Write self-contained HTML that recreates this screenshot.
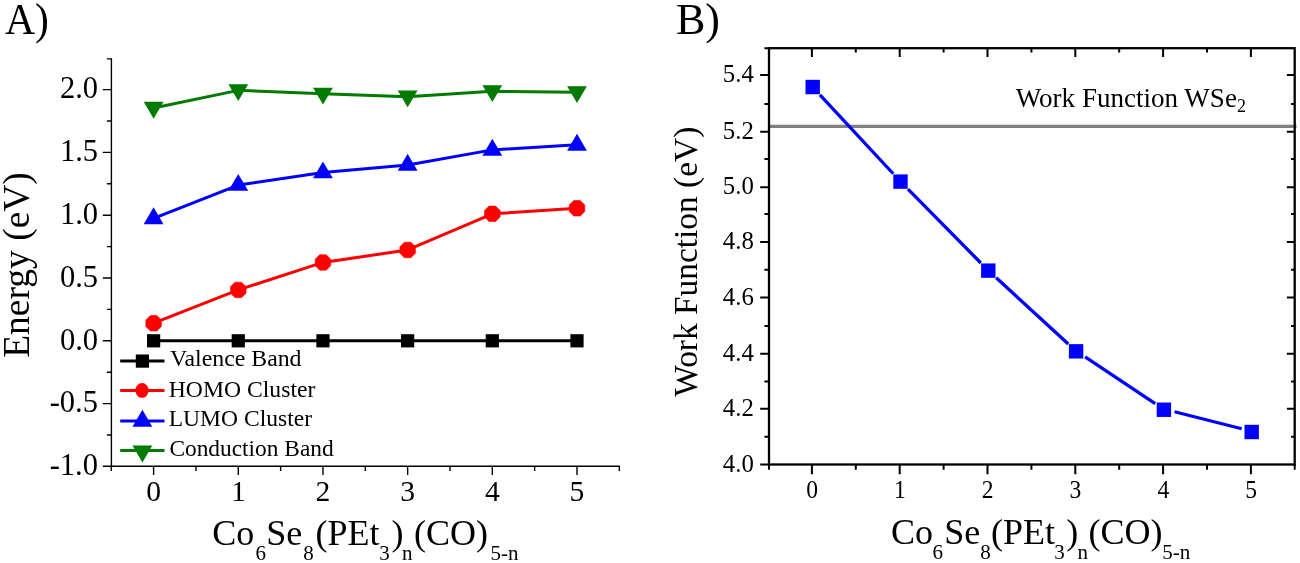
<!DOCTYPE html>
<html lang="en">
<head>
<meta charset="utf-8">
<title>Energy levels and work function of Co6Se8(PEt3)n(CO)5-n</title>
<style>
html,body{margin:0;padding:0;background:#fff;}
body{width:1300px;height:563px;overflow:hidden;font-family:"Liberation Serif",serif;}
svg{display:block;}
</style>
</head>
<body>
<svg width="1300" height="563" viewBox="0 0 1300 563">
<rect width="1300" height="563" fill="#fff"/>
<g id="panelA">
<path d="M111.4 58.20V466.3H620.10" fill="none" stroke="#000" stroke-width="1.4"/>
<path d="M111.4 466.30h-8.6M111.4 435.00h-4.5M111.4 403.60h-8.6M111.4 372.20h-4.5M111.4 340.80h-8.6M111.4 309.40h-4.5M111.4 278.00h-8.6M111.4 246.60h-4.5M111.4 215.20h-8.6M111.4 183.80h-4.5M111.4 152.40h-8.6M111.4 121.00h-4.5M111.4 89.60h-8.6M111.4 58.90h-4.5M111.26 466.3v4.7M153.60 466.3v8.6M195.94 466.3v4.7M238.28 466.3v8.6M280.62 466.3v4.7M322.96 466.3v8.6M365.30 466.3v4.7M407.64 466.3v8.6M449.98 466.3v4.7M492.32 466.3v8.6M534.66 466.3v4.7M577.00 466.3v8.6M619.34 466.3v4.7" fill="none" stroke="#000" stroke-width="1.4"/>
<g font-family="'Liberation Serif', serif" font-size="30.5" text-anchor="end" fill="#000">
<text x="98" y="98.30">2.0</text>
<text x="98" y="161.10">1.5</text>
<text x="98" y="223.90">1.0</text>
<text x="98" y="286.70">0.5</text>
<text x="98" y="349.50">0.0</text>
<text x="98" y="412.30">-0.5</text>
<text x="98" y="475.10">-1.0</text>
</g>
<g font-family="'Liberation Serif', serif" font-size="29.6" text-anchor="middle" fill="#000">
<text x="153.60" y="501.4">0</text>
<text x="238.28" y="501.4">1</text>
<text x="322.96" y="501.4">2</text>
<text x="407.64" y="501.4">3</text>
<text x="492.32" y="501.4">4</text>
<text x="577.00" y="501.4">5</text>
</g>
<polyline points="153.60,340.80 238.28,340.80 322.96,340.80 407.64,340.80 492.32,340.80 577.00,340.80" fill="none" stroke="#000" stroke-width="3.0" stroke-linejoin="round"/>
<rect x="147.00" y="334.20" width="13.20" height="13.20" fill="#000"/>
<rect x="231.68" y="334.20" width="13.20" height="13.20" fill="#000"/>
<rect x="316.36" y="334.20" width="13.20" height="13.20" fill="#000"/>
<rect x="401.04" y="334.20" width="13.20" height="13.20" fill="#000"/>
<rect x="485.72" y="334.20" width="13.20" height="13.20" fill="#000"/>
<rect x="570.40" y="334.20" width="13.20" height="13.20" fill="#000"/>
<polyline points="153.60,323.22 238.28,289.93 322.96,262.43 407.64,249.99 492.32,213.82 577.00,208.29" fill="none" stroke="#f00" stroke-width="3.0" stroke-linejoin="round"/>
<polygon points="150.35,315.47 156.85,315.47 161.35,319.97 161.35,326.47 156.85,330.97 150.35,330.97 145.85,326.47 145.85,319.97" fill="#f00" stroke="#f00" stroke-width="0.6" stroke-linejoin="round"/>
<polygon points="235.03,282.18 241.53,282.18 246.03,286.68 246.03,293.18 241.53,297.68 235.03,297.68 230.53,293.18 230.53,286.68" fill="#f00" stroke="#f00" stroke-width="0.6" stroke-linejoin="round"/>
<polygon points="319.71,254.68 326.21,254.68 330.71,259.18 330.71,265.68 326.21,270.18 319.71,270.18 315.21,265.68 315.21,259.18" fill="#f00" stroke="#f00" stroke-width="0.6" stroke-linejoin="round"/>
<polygon points="404.39,242.24 410.89,242.24 415.39,246.74 415.39,253.24 410.89,257.74 404.39,257.74 399.89,253.24 399.89,246.74" fill="#f00" stroke="#f00" stroke-width="0.6" stroke-linejoin="round"/>
<polygon points="489.07,206.07 495.57,206.07 500.07,210.57 500.07,217.07 495.57,221.57 489.07,221.57 484.57,217.07 484.57,210.57" fill="#f00" stroke="#f00" stroke-width="0.6" stroke-linejoin="round"/>
<polygon points="573.75,200.54 580.25,200.54 584.75,205.04 584.75,211.54 580.25,216.04 573.75,216.04 569.25,211.54 569.25,205.04" fill="#f00" stroke="#f00" stroke-width="0.6" stroke-linejoin="round"/>
<polyline points="153.60,218.47 238.28,185.06 322.96,172.50 407.64,164.96 492.32,149.89 577.00,144.86" fill="none" stroke="#00f" stroke-width="3.0" stroke-linejoin="round"/>
<path d="M153.60 207.37L163.50 224.27H143.70Z" fill="#00f"/>
<path d="M238.28 173.96L248.18 190.86H228.38Z" fill="#00f"/>
<path d="M322.96 161.40L332.86 178.30H313.06Z" fill="#00f"/>
<path d="M407.64 153.86L417.54 170.76H397.74Z" fill="#00f"/>
<path d="M492.32 138.79L502.22 155.69H482.42Z" fill="#00f"/>
<path d="M577.00 133.76L586.90 150.66H567.10Z" fill="#00f"/>
<polyline points="153.60,108.06 238.28,90.35 322.96,93.87 407.64,96.63 492.32,91.36 577.00,92.36" fill="none" stroke="#007a00" stroke-width="3.0" stroke-linejoin="round"/>
<path d="M153.60 118.76L163.50 101.86H143.70Z" fill="#007a00"/>
<path d="M238.28 101.05L248.18 84.15H228.38Z" fill="#007a00"/>
<path d="M322.96 104.57L332.86 87.67H313.06Z" fill="#007a00"/>
<path d="M407.64 107.33L417.54 90.43H397.74Z" fill="#007a00"/>
<path d="M492.32 102.06L502.22 85.16H482.42Z" fill="#007a00"/>
<path d="M577.00 103.06L586.90 86.16H567.10Z" fill="#007a00"/>
<g font-family="'Liberation Serif', serif" font-size="23.8" fill="#000">
<path d="M120.2 361.1H164.5" stroke="#000" stroke-width="3.0" fill="none"/>
<rect x="135.80" y="354.50" width="13.20" height="13.20" fill="#000"/>
<text transform="translate(170.0 365.7) scale(1.0 1)">Valence Band</text>
<path d="M120.2 390.4H164.5" stroke="#f00" stroke-width="3.0" fill="none"/>
<ellipse cx="142.0" cy="390.4" rx="6.6" ry="7.4" fill="#f00"/>
<text transform="translate(168.7 396.6) scale(0.995 1)">HOMO Cluster</text>
<path d="M120.2 420.9H164.5" stroke="#00f" stroke-width="3.0" fill="none"/>
<path d="M142.40 409.80L152.30 426.70H132.50Z" fill="#00f"/>
<text transform="translate(168.7 426.1) scale(0.99 1)">LUMO Cluster</text>
<path d="M120.2 450.5H164.5" stroke="#007a00" stroke-width="3.0" fill="none"/>
<path d="M142.40 462.40L152.30 445.50H132.50Z" fill="#007a00"/>
<text transform="translate(169.4 456.2) scale(0.983 1)">Conduction Band</text>
</g>
<text font-family="'Liberation Serif', serif" font-size="36" fill="#000"><tspan x="212.20" y="544.50">Co</tspan><tspan x="255.40" y="559.50" font-size="21">6</tspan><tspan x="266.30" y="544.50">Se</tspan><tspan x="303.30" y="559.50" font-size="21">8</tspan><tspan x="315.50" y="544.50">(PEt</tspan><tspan x="379.30" y="559.50" font-size="21">3</tspan><tspan x="391.40" y="544.50">)</tspan><tspan x="402.10" y="559.50" font-size="21">n</tspan><tspan x="414.10" y="544.50">(CO)</tspan><tspan x="490.60" y="559.50" font-size="21">5-n</tspan></text>
<text transform="translate(29 265.0) rotate(-90)" font-family="'Liberation Serif', serif" font-size="37.5" text-anchor="middle" fill="#000">Energy (eV)</text>
<text transform="translate(5 34.4) scale(0.945 1)" font-family="'Liberation Serif', serif" font-size="44" fill="#000">A)</text>
</g>
<g id="panelB">
<path d="M769.0 126.43H1296.5" stroke="#808080" stroke-width="3.2" fill="none"/>
<rect x="769.0" y="48.2" width="525.7" height="416.3" fill="none" stroke="#000" stroke-width="2.3"/>
<path d="M769.0 464.5h-8.8M769.0 436.66h-4.6M1294.7 436.66h-3.5999999999999996M769.0 408.84h-8.8M1294.7 408.84h-7.800000000000001M769.0 381.52h-4.6M1294.7 381.52h-3.5999999999999996M769.0 353.70h-8.8M1294.7 353.70h-7.800000000000001M769.0 325.98h-4.6M1294.7 325.98h-3.5999999999999996M769.0 297.56h-8.8M1294.7 297.56h-7.800000000000001M769.0 269.74h-4.6M1294.7 269.74h-3.5999999999999996M769.0 241.92h-8.8M1294.7 241.92h-7.800000000000001M769.0 214.10h-4.6M1294.7 214.10h-3.5999999999999996M769.0 187.18h-8.8M1294.7 187.18h-7.800000000000001M769.0 159.06h-4.6M1294.7 159.06h-3.5999999999999996M769.0 131.74h-8.8M1294.7 131.74h-7.800000000000001M769.0 104.02h-4.6M1294.7 104.02h-3.5999999999999996M769.0 75.00h-8.8M1294.7 75.00h-7.800000000000001M769.0 48.2h-4.6M769.00 464.5v5.3M811.90 464.5v9.8M811.90 48.2v8.8M855.80 464.5v5.3M855.80 48.2v4.3M899.70 464.5v9.8M899.70 48.2v8.8M943.60 464.5v5.3M943.60 48.2v4.3M987.50 464.5v9.8M987.50 48.2v8.8M1031.40 464.5v5.3M1031.40 48.2v4.3M1075.30 464.5v9.8M1075.30 48.2v8.8M1119.20 464.5v5.3M1119.20 48.2v4.3M1163.10 464.5v9.8M1163.10 48.2v8.8M1207.00 464.5v5.3M1207.00 48.2v4.3M1250.90 464.5v9.8M1250.90 48.2v8.8M1294.70 464.5v5.3" fill="none" stroke="#000" stroke-width="2.0"/>
<g font-family="'Liberation Serif', serif" font-size="24.8" text-anchor="end" fill="#000">
<text x="753.8" y="471.88">4.0</text>
<text x="753.8" y="416.24">4.2</text>
<text x="753.8" y="360.95">4.4</text>
<text x="753.8" y="304.96">4.6</text>
<text x="753.8" y="249.32">4.8</text>
<text x="753.8" y="194.31">5.0</text>
<text x="753.8" y="138.81">5.2</text>
<text x="753.8" y="82.40">5.4</text>
</g>
<g font-family="'Liberation Serif', serif" font-size="23.6" text-anchor="middle" fill="#000">
<text transform="translate(812.10 498.3) scale(1 1.07)">0</text>
<text transform="translate(899.90 498.3) scale(1 1.07)">1</text>
<text transform="translate(987.70 498.3) scale(1 1.07)">2</text>
<text transform="translate(1075.50 498.3) scale(1 1.07)">3</text>
<text transform="translate(1163.30 498.3) scale(1 1.07)">4</text>
<text transform="translate(1251.10 498.3) scale(1 1.07)">5</text>
</g>
<path d="M819.93 94.78L893.24 173.75M907.99 189.12L980.83 262.98M996.19 277.72L1068.30 343.99M1085.12 356.95L1155.19 403.58M1174.54 411.74L1241.69 428.76" fill="none" stroke="#00f" stroke-width="3.3"/>
<rect x="805.50" y="79.83" width="14.4" height="14.4" fill="#00f"/>
<rect x="893.30" y="174.42" width="14.4" height="14.4" fill="#00f"/>
<rect x="981.10" y="263.44" width="14.4" height="14.4" fill="#00f"/>
<rect x="1068.90" y="344.12" width="14.4" height="14.4" fill="#00f"/>
<rect x="1156.70" y="402.54" width="14.4" height="14.4" fill="#00f"/>
<rect x="1244.50" y="424.80" width="14.4" height="14.4" fill="#00f"/>
<text transform="translate(1015.7 107) scale(1 1.015)" font-family="'Liberation Serif', serif" font-size="27.05" fill="#000">Work Function WSe<tspan font-size="18" dy="5.3">2</tspan></text>
<text font-family="'Liberation Serif', serif" font-size="36" fill="#000"><tspan x="891.00" y="544.30">Co</tspan><tspan x="932.60" y="559.30" font-size="21">6</tspan><tspan x="944.20" y="544.30">Se</tspan><tspan x="980.20" y="559.30" font-size="21">8</tspan><tspan x="991.00" y="544.30">(PEt</tspan><tspan x="1054.30" y="559.30" font-size="21">3</tspan><tspan x="1066.20" y="544.30">)</tspan><tspan x="1077.60" y="559.30" font-size="21">n</tspan><tspan x="1088.60" y="544.30">(CO)</tspan><tspan x="1162.20" y="559.30" font-size="21">5-n</tspan></text>
<text transform="translate(696.9 261.7) rotate(-90)" font-family="'Liberation Serif', serif" font-size="33.4" text-anchor="middle" fill="#000">Work Function (eV)</text>
<text x="676" y="34" font-family="'Liberation Serif', serif" font-size="44" fill="#000">B)</text>
</g>
</svg>
</body>
</html>
